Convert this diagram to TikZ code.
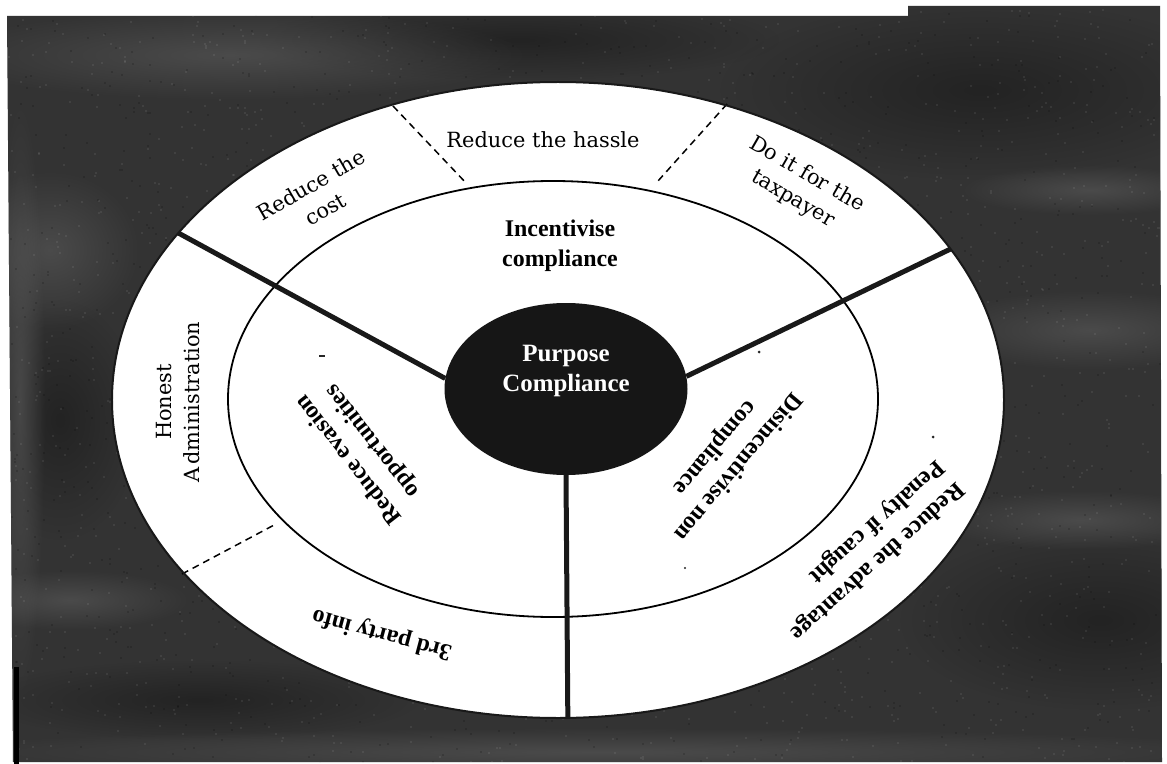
\documentclass[tikz,border=0pt]{standalone}
\usepackage{fontspec}
\setmainfont{Liberation Serif}
\newfontfamily\ringfont{DejaVu Serif}
\usetikzlibrary{shapes.geometric,fadings}

\definecolor{bgdark}{HTML}{333333}
\definecolor{bglight}{HTML}{5E5E5E}
\definecolor{bgdeep}{HTML}{161616}
\definecolor{corefill}{HTML}{161616}
\tikzfading[name=softblob, inner color=transparent!45, outer color=transparent!100]

\begin{document}
\begin{tikzpicture}[x=1bp, y=-1bp,
  ringlbl/.style={font=\ringfont\fontsize{21}{28}\selectfont, align=center, inner sep=0pt},
  boldlbl/.style={font=\bfseries\fontsize{24}{30}\selectfont, align=center, inner sep=0pt},
  corelbl/.style={font=\bfseries\fontsize{25}{31}\selectfont, text=white, align=center, inner sep=0pt},
  divider/.style={line width=5bp, black!90},
  dashdiv/.style={line width=1.5bp, black, dash pattern=on 7bp off 5bp},
  rim/.style={line width=2bp, black!90},
  streak/.style={fill=bglight, path fading=softblob},
  shade/.style={fill=bgdeep, path fading=softblob},
  speck/.style={fill=black!85}]

% page and bounding box
\fill[white] (0,0) rectangle (1167,764);
\useasboundingbox (0,0) rectangle (1167,764);

% dark textured backdrop
\path[fill=bgdark] (7,16) -- (908,16) -- (908,6) -- (1160,6) -- (1162,762) -- (13,762) -- cycle;
\begin{scope}
  \clip (7,16) -- (908,16) -- (908,6) -- (1160,6) -- (1162,762) -- (13,762) -- cycle;
  % darker patches
  \fill[shade] (980,90) ellipse [x radius=260bp, y radius=90bp];
  \fill[shade] (520,40) ellipse [x radius=260bp, y radius=40bp];
  \fill[shade] (1100,620) ellipse [x radius=200bp, y radius=90bp];
  \fill[shade] (200,700) ellipse [x radius=220bp, y radius=40bp];
  \fill[shade] (60,420) ellipse [x radius=80bp, y radius=120bp];
  % lighter streaks
  \fill[streak] (230,55) ellipse [x radius=300bp, y radius=45bp];
  \fill[streak] (50,250) ellipse [x radius=90bp, y radius=80bp];
  \fill[streak] (1090,330) ellipse [x radius=160bp, y radius=40bp];
  \fill[streak] (1090,190) ellipse [x radius=130bp, y radius=25bp];
  \fill[streak] (600,752) ellipse [x radius=700bp, y radius=24bp];
  \fill[streak] (70,600) ellipse [x radius=120bp, y radius=30bp];
  \fill[streak] (1080,520) ellipse [x radius=150bp, y radius=30bp];
  \fill[streak] (20,400) ellipse [x radius=25bp, y radius=300bp];
  % fine grain
  \pgfmathsetseed{11}
  \foreach \i in {1,...,1800} {
    \pgfmathsetmacro{\px}{8+1152*rnd}
    \pgfmathsetmacro{\py}{8+754*rnd}
    \fill[white, opacity=0.07] (\px,\py) rectangle ++(2,2);
  }
  \foreach \i in {1,...,1200} {
    \pgfmathsetmacro{\px}{8+1152*rnd}
    \pgfmathsetmacro{\py}{8+754*rnd}
    \fill[black, opacity=0.15] (\px,\py) rectangle ++(2,2);
  }
\end{scope}
\fill[black] (14,667) rectangle (19,764);

% outer ring and inner ring
\fill[white] (558,400) ellipse [x radius=446bp, y radius=318bp];
\draw[line width=1.8bp] (553,399) ellipse [x radius=325bp, y radius=218bp];

% centre
\node[ellipse, fill=corefill, minimum width=243bp, minimum height=172bp, inner sep=0pt] (core) at (566,389) {};

% free ends of the dividers, past the rim
\coordinate (endL) at (160,223);
\coordinate (endR) at (963,243);
\coordinate (endB) at (568,740);
\begin{scope}
  \clip (558,400) ellipse [x radius=446bp, y radius=318bp];
  \draw[divider] (core.175) -- (endL);
  \draw[divider] (core.6) -- (endR);
  \draw[divider] (core.south) -- (endB);
\end{scope}

% dashed separators in the outer ring
\coordinate (da1) at (393,106);
\coordinate (da2) at (467,184);
\coordinate (db1) at (727,104);
\coordinate (db2) at (658,181);
\coordinate (dc1) at (182,574);
\coordinate (dc2) at (276,524);
\draw[dashdiv] (da1) -- (da2);
\draw[dashdiv] (db1) -- (db2);
\draw[dashdiv] (dc1) -- (dc2);

\draw[rim] (558,400) ellipse [x radius=446bp, y radius=318bp];

% labels
\node[corelbl] (purpose) at (566,371) {Purpose\\Compliance};

\node[ringlbl] (hassle) at (543,140) {Reduce the hassle};
\node[ringlbl, rotate=30] (cost) at (318,197) {Reduce the\\cost};
\node[ringlbl, rotate=-30] (taxpayer) at (800,187) {Do it for the\\taxpayer};
\node[ringlbl, rotate=90] (honest) at (178,402) {Honest\\A\kern3pt dministration};

\node[boldlbl] (incent) at (560,246) {Incentivise\\compliance};
\node[boldlbl, rotate=128] (evasion) at (361,450) {Reduce evasion\\opportunities};
\node[boldlbl, rotate=230] (disinc) at (726,457) {Disincentivise non\\compliance};
\node[boldlbl, rotate=165] (third) at (382,634) {3rd party info};
\node[boldlbl, rotate=222, align=left] (advantage) at (867,550) {Reduce the advantage\\Penalty if caught};

% small marks on the white ground
\fill[speck] (319,355) rectangle (325,357);
\fill[speck] (759,352) circle (1.5bp);
\fill[speck] (933,437) circle (1.5bp);
\fill[speck] (685,568) circle (1.2bp);
\end{tikzpicture}
\end{document}
